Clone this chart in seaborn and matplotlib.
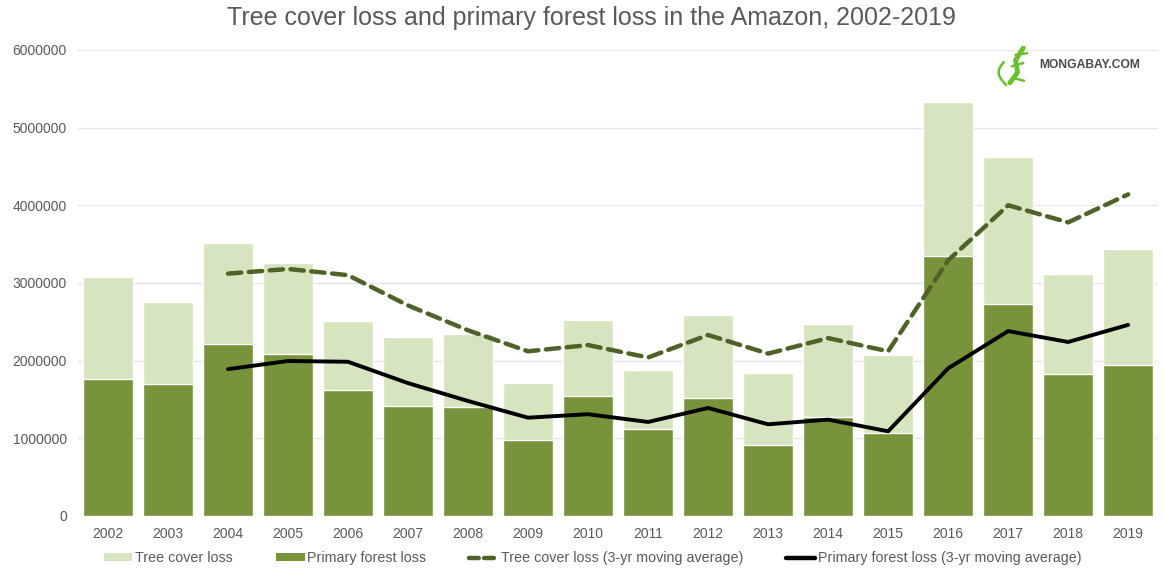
#!/usr/bin/env python3
"""Tree cover loss and primary forest loss in the Amazon, 2002-2019."""
import matplotlib
matplotlib.use("Agg")
import matplotlib.pyplot as plt
from matplotlib.lines import Line2D
from matplotlib.patches import Patch
import numpy as np
import pandas as pd
import seaborn as sns

# --------------------------- data ---------------------------
years = ["2002", "2003", "2004", "2005", "2006", "2007", "2008", "2009", "2010",
         "2011", "2012", "2013", "2014", "2015", "2016", "2017", "2018", "2019"]
tree_cover_loss = [3080000, 2750000, 3510000, 3260000, 2510000, 2300000, 2340000, 1710000, 2520000,
                   1880000, 2590000, 1840000, 2470000, 2070000, 5330000, 4620000, 3120000, 3440000]
primary_loss = [1760000, 1700000, 2210000, 2090000, 1620000, 1420000, 1400000, 980000, 1540000,
                1120000, 1520000, 910000, 1270000, 1070000, 3350000, 2730000, 1830000, 1940000]
tree_ma = [np.nan, np.nan, 3120000, 3180000, 3100000, 2710000, 2390000, 2120000, 2200000,
           2040000, 2330000, 2090000, 2290000, 2120000, 3290000, 4000000, 3780000, 4140000]
primary_ma = [np.nan, np.nan, 1890000, 1995000, 1985000, 1710000, 1480000, 1265000, 1310000,
              1210000, 1390000, 1180000, 1240000, 1090000, 1900000, 2380000, 2240000, 2460000]
y_ticks = [0, 1000000, 2000000, 3000000, 4000000, 5000000, 6000000]

LIGHT = "#d6e4bf"
DARK = "#77933c"
DASH = "#4f6228"
GREY = "#595959"

df = pd.DataFrame({"year": years, "tree": tree_cover_loss, "primary": primary_loss,
                   "tree_ma": tree_ma, "primary_ma": primary_ma})
df["pos"] = np.arange(len(df))

sns.set_theme(style="white")
plt.rcParams["font.family"] = ["Liberation Sans", "DejaVu Sans"]

fig = plt.figure(figsize=(11.64, 5.72), dpi=100)
ax = fig.add_axes([0.067, 0.098, 0.928, 0.8147])

sns.barplot(data=df, x="year", y="tree", color=LIGHT, width=0.83, saturation=1, ax=ax)
sns.barplot(data=df, x="year", y="primary", color=DARK, width=0.83, saturation=1, ax=ax)
sns.lineplot(data=df, x="pos", y="tree_ma", color=DASH, linewidth=3.2,
             linestyle=(0, (3, 1.7)), dash_capstyle="round", ax=ax)
sns.lineplot(data=df, x="pos", y="primary_ma", color="black", linewidth=2.8, ax=ax)

ax.set_xlim(-0.5, len(years) - 0.5)
ax.set_ylim(0, 6000000)
ax.set_yticks(y_ticks)
ax.set_yticklabels([str(v) for v in y_ticks])
ax.yaxis.grid(True, color="#e6e6e6", linewidth=1)
ax.set_axisbelow(True)
ax.set_xlabel("")
ax.set_ylabel("")
ax.tick_params(axis="both", colors=GREY, labelsize=10, length=0, pad=8)
for s in ax.spines.values():
    s.set_visible(False)

fig.suptitle("Tree cover loss and primary forest loss in the Amazon, 2002-2019",
             x=0.508, y=0.99, fontsize=18, color=GREY)

handles = [
    Patch(facecolor=LIGHT, edgecolor="none"),
    Patch(facecolor=DARK, edgecolor="none"),
    Line2D([], [], color=DASH, linewidth=3.2, linestyle=(0, (2.2, 1.2)), dash_capstyle="round"),
    Line2D([], [], color="black", linewidth=3.2),
]
labels = ["Tree cover loss", "Primary forest loss",
          "Tree cover loss (3-yr moving average)", "Primary forest loss (3-yr moving average)"]
fig.legend(handles, labels, loc="center", bbox_to_anchor=(0.509, 0.024), ncol=4,
           frameon=False, fontsize=10.3, labelcolor=GREY, handlelength=2.0,
           handleheight=0.45, handletextpad=0.2, columnspacing=3.0)

# logo
fig.text(0.893, 0.887, "MONGABAY.COM", fontsize=8.7, color="#2b2b2b", va="center", ha="left",
         fontweight="bold", alpha=0.85)
logo = fig.add_axes([0.856, 0.848, 0.033, 0.072])
logo.axis("off")
t = np.linspace(0, 1, 30)
green = "#6abf2e"
logo.plot(0.28 + 0.22 * np.cos(2.6 * t + 1.7), 0.05 + 0.55 * t, color=green, lw=1.8)
logo.plot([0.35, 0.55, 0.5, 0.7], [0.1, 0.35, 0.65, 0.95], color=green, lw=3.5,
          solid_capstyle="round")
logo.plot([0.4, 0.7], [0.5, 0.58], color=green, lw=1.8)
logo.plot([0.42, 0.72], [0.22, 0.15], color=green, lw=1.8)
logo.plot([0.5, 0.8], [0.78, 0.82], color=green, lw=1.8)
logo.set_xlim(0, 1)
logo.set_ylim(0, 1)

fig.savefig("out.png", dpi=100)
